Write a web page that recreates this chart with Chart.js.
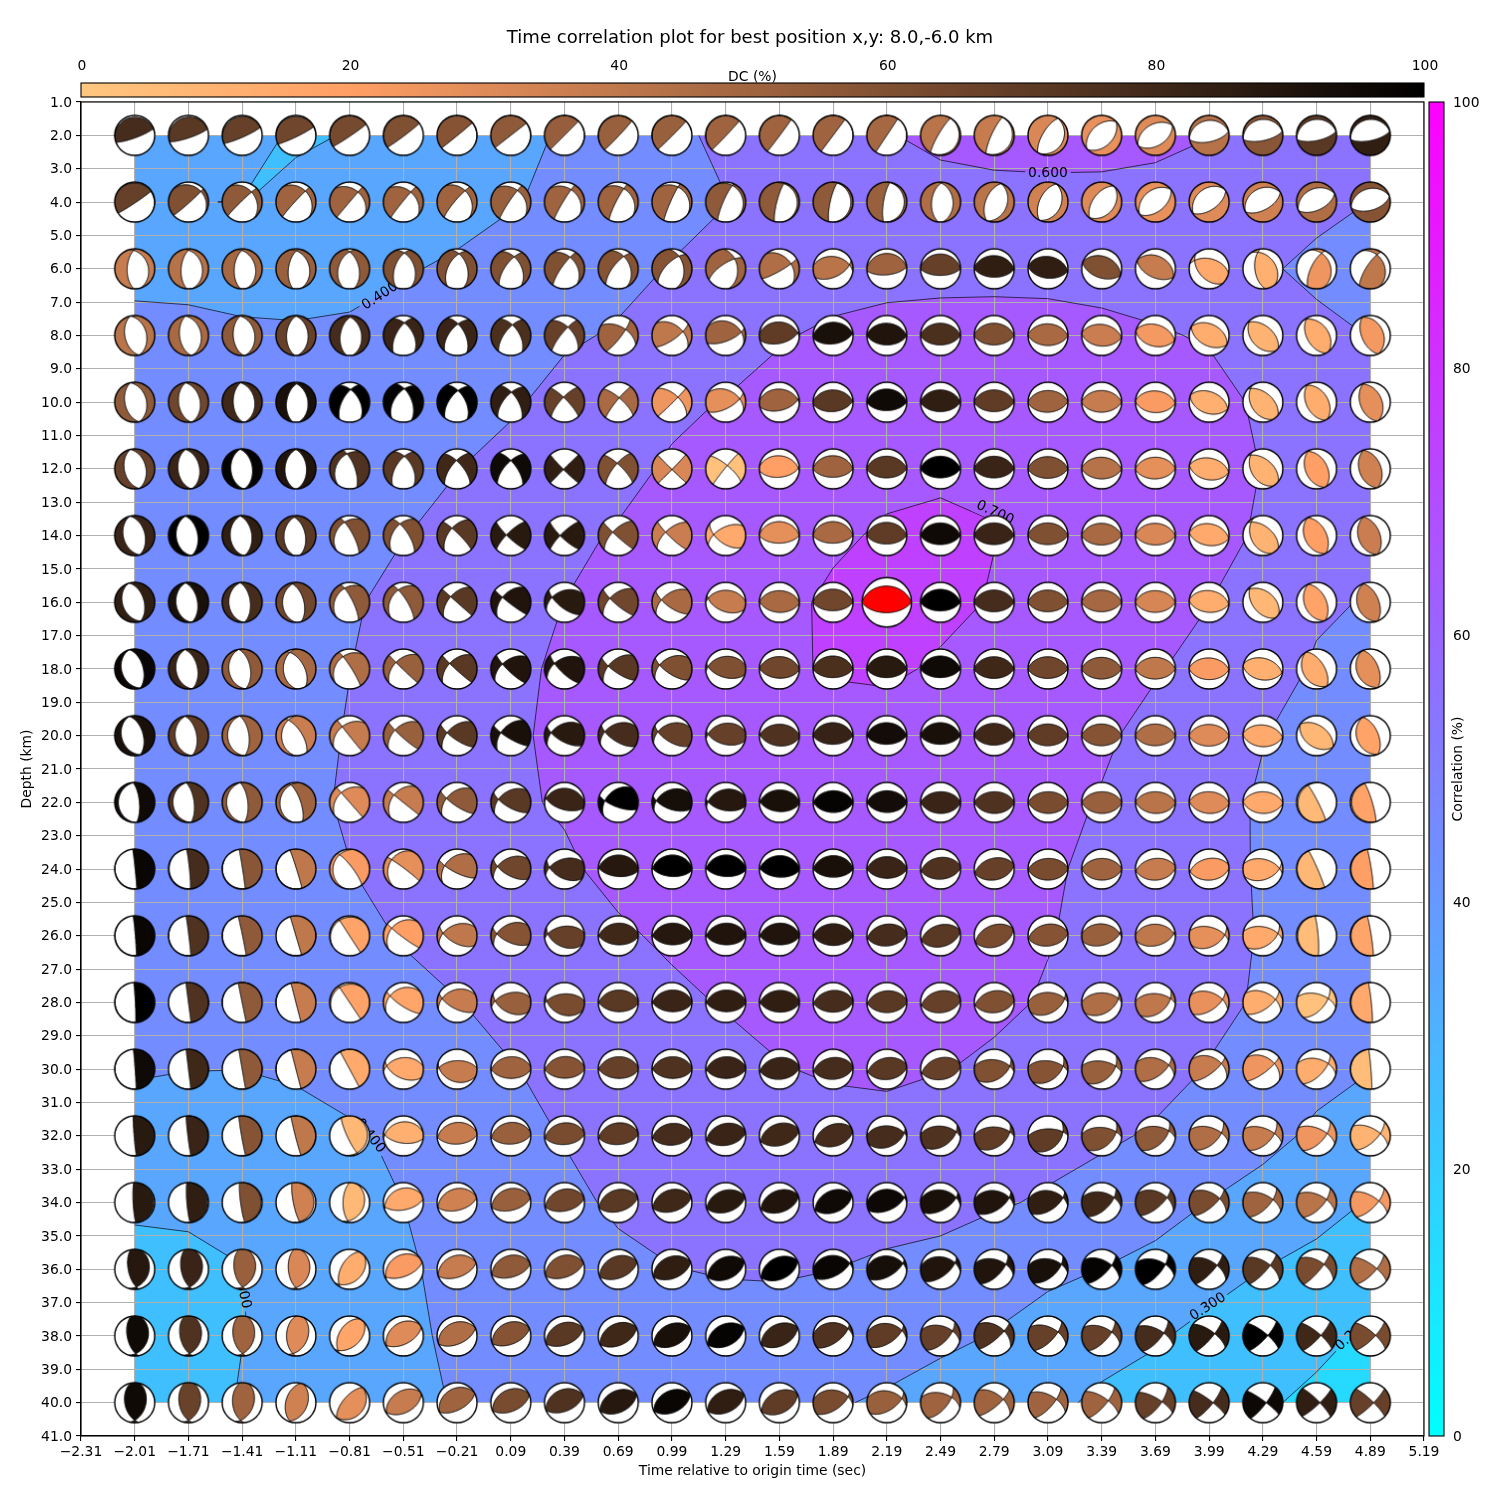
<!DOCTYPE html>
<html>
<head>
<meta charset="utf-8">
<title>Time correlation plot</title>
<script src="https://cdn.jsdelivr.net/npm/chart.js@4"></script>
<style>
  html, body { margin: 0; padding: 0; background: #fff; }
  #wrap { position: relative; width: 1500px; height: 1500px; }
  canvas { position: absolute; }
</style>
</head>
<body>
<div id="wrap">
  <canvas id="mainChart" width="1500" height="1500" style="left:0;top:0"></canvas>
  <canvas id="dcBar" width="1500" height="100" style="left:0;top:0"></canvas>
  <canvas id="corrBar" width="100" height="1500" style="left:1400px;top:0"></canvas>
</div>
<script>
// Axis ticks
const timeTicks = [-2.31,-2.01,-1.71,-1.41,-1.11,-0.81,-0.51,-0.21,0.09,0.39,0.69,0.99,1.29,1.59,1.89,2.19,2.49,2.79,3.09,3.39,3.69,3.99,4.29,4.59,4.89,5.19];
const depthTicks = [1,2,3,4,5,6,7,8,9,10,11,12,13,14,15,16,17,18,19,20,21,22,23,24,25,26,27,28,29,30,31,32,33,34,35,36,37,38,39,40,41];
const colorbarTicks = [0,20,40,60,80,100];

// Grid nodes
const gridTimes = [-2.01,-1.71,-1.41,-1.11,-0.81,-0.51,-0.21,0.09,0.39,0.69,0.99,1.29,1.59,1.89,2.19,2.49,2.79,3.09,3.39,3.69,3.99,4.29,4.59,4.89];
const gridDepths = [2,4,6,8,10,12,14,16,18,20,22,24,26,28,30,32,34,36,38,40];
const bestTime = 2.19, bestDepth = 16;

// Contours
const fillLevels = [0.1,0.2,0.3,0.4,0.5,0.6,0.7];
const lineLevels = [0.2,0.3,0.4,0.5,0.6,0.7];
// [time, depth, text, angle in degrees]
const contourLabels = [
  [-0.64,6.82,'0.400',-33],
  [3.09,3.13,'0.600',0],
  [2.794,13.32,'0.700',25],
  [3.984,37.13,'0.300',-33],
  [4.79,37.97,'0.200',-42],
  [-0.696,32.0,'0.400',52],
  [-1.41,36.59,'0.300',78]
];

// Correlation at each node, one row per depth
const corr = [
  [.32,.315,.3087,.297,.301,.32,.34,.375,.409,.44,.485,.515,.55,.575,.595,.62,.635,.64,.635,.625,.602,.585,.57,.555],
  [.32,.3006,.2995,.306,.32,.335,.365,.394,.42,.45,.475,.498,.525,.54,.555,.566,.568,.569,.571,.564,.56,.54,.52,.499],
  [.375,.37,.365,.365,.375,.392,.414,.435,.455,.48,.504,.525,.54,.55,.5636,.565,.564,.561,.55,.551,.54,.51,.483,.47],
  [.427,.4255,.4136,.41,.4135,.436,.45,.47,.49,.507,.53,.56,.59,.62,.635,.645,.65,.648,.635,.61,.5908,.555,.52,.498],
  [.43,.435,.44,.445,.45,.46,.475,.49,.5245,.55,.585,.6035,.64,.66,.67,.675,.68,.675,.665,.65,.635,.583,.545,.52],
  [.435,.44,.445,.45,.46,.475,.4985,.525,.55,.58,.609,.64,.66,.67,.68,.685,.69,.68,.67,.655,.63,.598,.56,.53],
  [.44,.445,.45,.46,.475,.498,.52,.55,.585,.606,.63,.65,.665,.688,.7096,.7195,.7027,.689,.675,.66,.635,.586,.56,.53],
  [.44,.445,.455,.465,.49,.5245,.55,.58,.6005,.625,.645,.66,.6809,.7127,.75,.73,.6915,.68,.67,.65,.601,.56,.51,.4955],
  [.44,.445,.455,.47,.499,.53,.555,.59,.6075,.63,.65,.665,.69,.706,.72,.685,.67,.665,.65,.605,.578,.53,.4925,.47],
  [.44,.445,.455,.47,.5057,.535,.56,.59,.614,.635,.645,.65,.655,.67,.646,.65,.65,.635,.61,.58,.55,.503,.47,.45],
  [.44,.445,.46,.48,.509,.54,.565,.59,.607,.64,.66,.675,.675,.67,.665,.66,.65,.62,.5956,.57,.53,.4905,.47,.45],
  [.435,.445,.46,.475,.4985,.53,.55,.57,.59,.6186,.65,.665,.67,.665,.66,.65,.63,.61,.583,.56,.525,.4925,.46,.44],
  [.43,.44,.45,.465,.48,.5047,.525,.55,.575,.59,.6117,.635,.65,.65,.645,.635,.62,.603,.583,.56,.52,.496,.455,.43],
  [.415,.425,.435,.45,.47,.48,.498,.518,.54,.565,.585,.605,.63,.635,.635,.63,.612,.5945,.575,.55,.52,.4908,.45,.42],
  [.403,.4005,.4003,.41,.435,.455,.475,.497,.516,.535,.555,.575,.595,.612,.62,.603,.589,.57,.55,.53,.496,.465,.43,.402],
  [.385,.384,.38,.37,.387,.418,.45,.48,.503,.525,.54,.55,.555,.56,.56,.555,.545,.53,.515,.4896,.47,.43,.3824,.36],
  [.32,.325,.335,.355,.385,.4,.43,.455,.485,.5096,.53,.54,.545,.55,.545,.535,.51,.4896,.46,.44,.398,.36,.33,.2947],
  [.2605,.268,.2974,.345,.375,.392,.416,.44,.46,.485,.498,.506,.51,.5005,.48,.465,.44,.42,.399,.37,.335,.30,.275,.255],
  [.23,.245,.297,.34,.365,.385,.4128,.43,.445,.455,.465,.465,.457,.46,.45,.42,.396,.36,.335,.31,.274,.25,.22,.188],
  [.2,.225,.313,.345,.365,.38,.4047,.42,.43,.44,.445,.44,.43,.41,.3856,.36,.34,.32,.284,.26,.235,.21,.183,.16]
];

// DC percentage at each node
const dc = [
  [78,72,68,65,63,60,58,55,53,52,52,50,50,50,48,42,38,32,27,30,43,57,72,85],
  [68,60,55,50,50,50,50,52,50,50,50,55,55,55,52,45,42,35,30,27,30,35,45,58],
  [38,43,48,52,55,60,60,60,60,58,58,50,45,42,50,68,85,85,60,38,15,12,25,40],
  [42,47,55,68,78,82,82,76,68,50,40,50,70,92,90,76,60,47,37,23,13,10,13,23],
  [55,65,80,92,100,98,100,85,68,47,25,28,50,72,95,85,70,50,38,22,12,10,13,28],
  [68,82,98,90,75,72,80,95,85,60,32,3,20,50,72,100,82,60,43,28,13,10,20,35],
  [82,100,85,72,60,60,72,87,87,60,37,15,28,47,70,95,82,60,47,32,15,10,20,37],
  [85,92,78,65,55,55,72,90,87,65,47,38,47,65,0,100,78,60,48,33,13,8,18,35],
  [97,82,55,48,45,52,72,90,90,72,60,60,65,76,87,95,80,65,55,40,22,12,13,28],
  [92,70,50,37,38,52,72,92,87,78,68,68,75,83,94,92,80,70,58,45,30,15,8,18],
  [95,75,55,50,30,38,55,72,82,100,93,88,92,98,94,82,75,62,52,42,30,15,7,18],
  [97,78,57,40,22,28,45,65,78,88,100,100,100,92,82,75,68,62,50,38,22,15,8,20],
  [97,75,55,40,18,20,40,58,68,80,88,90,90,85,78,72,62,58,52,40,28,15,5,17],
  [100,75,55,38,18,17,38,52,62,72,82,85,85,78,72,68,60,52,45,40,27,13,3,15],
  [95,80,55,38,15,15,38,50,58,68,75,82,82,78,72,68,60,58,52,45,38,25,13,5],
  [87,82,58,40,8,12,38,52,62,70,78,82,80,78,78,75,70,70,60,55,45,38,25,10],
  [87,85,60,35,7,15,35,52,65,72,80,87,90,95,96,92,90,85,80,72,62,50,42,23],
  [88,82,52,32,13,22,38,55,60,72,85,95,100,97,93,90,90,92,98,100,85,72,62,45],
  [95,75,50,30,17,30,45,58,72,80,92,98,82,75,70,68,75,68,68,78,87,100,80,62],
  [95,67,50,35,28,38,50,62,75,88,97,85,70,62,52,50,50,50,50,68,78,96,85,68]
];

// Focal mechanism per node: [crossing x, y, a point on a nodal line x, y, flag], in hundredths of
// the ball radius. The filled side lies right of the walk crossing -> point, left if flag is set.
const mech = [
  [[92,33,0,-13],[95,32,0,-13],[91,40,0,-10],[88,42,0,-8],[83,56,0,-5],[80,60,0,-5],[76,62,0,-2],[77,60,0,0],[70,70,0,0],[68,72,0,-5],[70,70,0,-3],[68,72,0,-3],[60,80,0,-3],[60,80,0,0],[55,83,0,0],[50,86,-13,0],[42,91,-15,0],[50,85,-30,0],[72,68,-35,40],[85,50,-30,48],[97,20,0,75],[97,20,0,80],[97,20,0,80],[97,20,0,80]],
  [[80,53,0,-5],[62,53,0,-6],[47,50,-70,-67],[47,55,-63,-67],[42,50,-58,-68],[37,50,-58,-70],[40,57,-62,-70],[33,58,-10,0],[33,62,-8,0],[28,67,-12,0],[30,75,-8,0],[33,83,-13,0],[22,92,-13,0],[20,95,-15,0],[15,97,-17,0],[3,95,-45,0],[35,92,-45,0],[42,90,-45,0],[62,80,-50,0],[78,62,0,68],[83,60,0,75],[87,48,0,72],[90,42,0,70],[96,28,0,68]],
  [[-5,92,-38,0],[0,93,-37,0],[-2,92,-40,0],[2,90,-38,0],[0,85,-40,-85],[5,79,-40,-85],[10,75,-50,-83],[17,60,-58,-82],[28,58,-58,-83],[28,62,-62,-83],[35,63,-70,-67],[45,50,-85,-62],[58,25,-87,-50],[82,20,-95,-40],[98,8,0,-30],[99,0,0,-33],[99,-2,0,-42],[98,-12,0,-47],[94,-32,0,-47],[90,-42,0,-47],[-72,42,20,47],[-25,83,70,0],[25,78,72,0],[33,70,75,-25]],
  [[-22,97,-50,0],[-15,97,-45,0],[-10,97,-45,0],[0,97,-47,0],[3,92,-47,0],[5,63,-50,-85],[5,58,-60,-85],[8,53,-60,-85],[17,42,-63,-75],[37,30,-67,-83],[55,20,-87,-58],[78,17,-30,-38],[92,13,0,-40],[97,10,0,-42],[99,-2,0,-47],[99,0,0,-47],[99,0,0,-47],[99,-2,0,-50],[98,-10,0,-53],[95,-25,0,-55],[90,-45,0,-55],[75,-72,-50,-33],[55,-88,-53,0],[40,-92,-45,0]],
  [[-22,97,-50,0],[-15,97,-50,0],[-8,97,-45,0],[3,92,-47,0],[5,63,-50,-85],[5,67,-58,-80],[5,58,-60,-80],[3,50,-65,-75],[-5,25,-67,-75],[5,22,-63,-77],[30,25,-70,-70],[70,17,-87,-48],[92,13,0,-42],[97,5,0,-47],[99,0,0,-42],[99,0,0,-47],[99,0,0,-47],[99,3,0,-50],[99,0,0,-50],[99,-5,0,-52],[93,-33,0,-58],[72,-80,-50,-33],[50,-90,-55,0],[38,-95,-53,0]],
  [[-22,97,-53,0],[-15,97,-53,0],[-10,98,-57,0],[0,97,-55,0],[-13,75,-58,-80],[5,63,-53,-85],[-3,42,-62,-78],[0,42,-67,-75],[-5,-3,-70,-70],[-5,28,-63,-77],[0,-3,-70,-72],[8,17,-63,-77],[95,3,0,-42],[99,0,0,-42],[99,0,0,-45],[99,0,0,-45],[99,0,0,-45],[99,0,0,-47],[99,-2,0,-50],[99,2,0,-50],[98,-18,0,-55],[72,-80,-50,-30],[45,-92,-58,0],[35,-95,-57,0]],
  [[-25,97,-58,0],[-15,97,-62,0],[-10,98,-60,0],[-8,92,-60,0],[-25,67,-65,-75],[-17,58,-60,-78],[-25,37,-62,-78],[-22,3,-72,-70],[-22,0,-72,-70],[-28,17,-70,-72],[-32,17,-75,-65],[-60,5,0,45],[99,0,0,-38],[99,0,0,-38],[99,0,0,-42],[99,0,0,-45],[99,0,0,-45],[99,0,0,-45],[99,0,0,-47],[99,-2,0,-47],[98,-15,0,-50],[72,-83,-58,-17],[45,-90,-63,0],[35,-95,-62,0]],
  [[-30,97,-63,0],[-15,97,-63,0],[-10,98,-67,0],[-17,92,-67,0],[-25,70,-67,-72],[-25,62,-62,-78],[-32,28,-67,-72],[-42,25,-68,-72],[-62,25,0,60],[-42,20,0,53],[-53,12,0,53],[-88,20,0,60],[-99,3,0,58],[99,0,0,-42],[99,0,0,-42],[99,0,0,-43],[99,0,0,-47],[99,0,0,-47],[99,0,0,-47],[99,0,0,-50],[98,-10,0,-50],[75,-75,-33,-40],[42,-92,-63,0],[35,-95,-67,0]],
  [[-28,97,-67,0],[-18,97,-63,0],[-17,98,-67,0],[-30,83,-63,0],[-33,62,-72,-68],[-37,33,-72,-68],[-37,28,-72,-68],[-42,25,-80,-58],[-50,28,0,57],[-50,15,0,57],[-62,20,0,62],[-88,12,0,63],[-99,3,0,62],[99,0,0,-43],[99,0,0,-43],[99,0,0,-43],[99,0,0,-47],[99,0,0,-47],[99,0,0,-50],[99,0,0,-50],[99,-3,0,-53],[95,-20,0,-55],[52,-85,-73,0],[38,-92,-70,0]],
  [[-28,97,-67,0],[-17,97,-67,0],[-12,98,-73,0],[-38,78,-72,0],[-37,45,-80,-58],[-42,28,-75,-65],[-50,15,-75,-62],[-50,15,0,62],[-67,15,0,62],[-67,20,0,62],[-70,20,0,62],[-88,8,0,62],[-97,5,0,57],[99,0,0,-43],[99,0,0,-43],[99,0,0,-43],[99,0,0,-47],[99,0,0,-50],[99,0,0,-50],[99,0,0,-50],[99,0,0,-52],[98,-8,0,-55],[82,-57,0,-63],[38,-93,-70,0]],
  [[-8,98,-82,0],[-12,98,-78,0],[-10,98,-78,0],[-25,88,-80,0],[-42,48,0,72],[-47,37,0,73],[-53,20,0,62],[-62,15,0,62],[-92,20,0,70],[-67,8,0,70],[-78,8,0,65],[-88,3,0,65],[-97,3,0,62],[-99,0,0,58],[-99,0,0,58],[-99,0,0,53],[-99,0,0,53],[-99,0,0,53],[-99,0,0,53],[-99,3,0,53],[-99,5,0,53],[-99,3,0,53],[-42,85,8,0],[-28,95,10,0]],
  [[10,-98,2,0],[10,-98,5,0],[15,-97,2,0],[30,-95,3,0],[-50,72,58,-70,1],[-58,47,80,-60,1],[-62,17,88,-45,1],[-67,13,85,-50,1],[-75,8,88,-47,1],[-97,5,0,70],[-97,3,0,70],[-97,3,0,70],[-97,3,0,67],[-99,0,0,67],[-99,0,0,62],[-97,-10,0,58],[-96,-22,0,55],[-99,-3,0,53],[-99,0,0,53],[-97,-10,0,53],[-95,-13,0,53],[83,3,0,-55],[-40,92,5,0],[-15,98,5,0]],
  [[8,-99,3,0],[12,-99,2,0],[20,-98,2,0],[28,-94,0,0],[-50,77,0,0,1],[-58,38,80,-60,1],[-70,13,85,-50,1],[-70,10,83,-45,1],[-83,10,88,-45,1],[-97,0,0,63],[-97,0,0,63],[-97,0,0,63],[-97,0,0,63],[-99,0,0,60],[-97,-12,0,58],[-95,-25,0,55],[-93,-33,0,55],[-97,-15,0,58],[90,12,0,-48],[92,12,0,-50],[78,5,-85,-50],[75,12,-80,-58],[-8,99,8,0],[-15,98,5,0]],
  [[5,-99,3,0],[13,-99,0,0],[20,-98,0,0],[25,-97,0,0],[-50,75,0,0,1],[-67,33,80,-55,1],[-75,20,85,-47,1],[-78,8,88,-47,1],[-88,8,90,-40,1],[-97,0,0,62],[-97,0,0,62],[-97,0,0,62],[-97,0,0,60],[-97,-5,0,60],[-97,-5,0,58],[-95,-15,0,58],[-95,-15,0,58],[83,20,0,-58],[83,20,0,-60],[75,20,0,-62],[67,15,-80,-58],[63,15,-82,-58],[58,20,-58,-75],[-10,99,5,0]],
  [[7,-99,2,0],[12,-99,0,0],[17,-98,0,0],[25,-97,0,0],[-47,87,0,0,1],[-83,17,85,-45,1],[-90,8,90,-38,1],[-97,-3,0,62],[-97,-3,0,63],[-97,0,0,62],[-97,0,0,62],[-97,-3,0,62],[-97,-10,0,58],[-97,-10,0,58],[-95,-15,0,57],[-93,-20,0,57],[78,15,0,-58],[75,15,0,-63],[70,15,0,-63],[67,20,-78,-60],[62,28,-78,-60],[58,28,-80,-60],[58,28,-58,-72],[-8,99,3,0]],
  [[8,-99,-3,0],[12,-99,-3,0],[17,-98,-3,0],[25,-97,-3,0],[37,-85,-13,0],[-93,5,0,70],[-97,-8,0,67],[-97,-8,0,67],[-97,-10,0,65],[-97,-10,0,65],[-97,-10,0,62],[-95,-20,0,62],[-93,-28,0,62],[-90,-30,0,58],[87,15,0,-58],[78,20,0,-58],[78,20,0,-63],[75,20,-65,-75],[72,20,-70,-70],[67,25,-68,-72],[62,15,-70,-70],[58,12,-67,-72],[53,12,-65,-73],[50,12,-68,-70]],
  [[5,-99,-8,0],[8,-99,-8,0],[13,-98,-8,0],[18,-95,-13,0],[-8,-92,-33,0],[-93,-22,0,72],[-95,-25,0,70],[-95,-25,0,70],[-95,-23,0,67],[-95,-27,0,65],[-95,-28,0,65],[-94,-30,0,62],[-92,-33,0,62],[-90,-38,0,62],[87,25,0,-42],[78,25,0,-42],[75,25,0,-45],[75,25,0,-45],[62,25,0,-47],[58,25,-75,-65],[53,20,-73,-65],[50,15,-63,-72],[50,15,-58,-72],[43,8,-68,-72]],
  [[8,-88,-33,0],[5,-88,-37,0],[2,-88,-40,0],[0,-92,-38,0],[-53,-75,-40,15],[-88,-38,0,75],[-94,-33,0,70],[-94,-28,0,70],[-94,-33,0,70],[-92,-37,0,67],[-92,-37,0,65],[-90,-40,0,62],[-90,-42,0,62],[83,30,0,-38],[80,30,0,-40],[72,32,0,-42],[58,25,0,-45],[67,25,-67,-68],[50,20,-58,-68],[50,25,-55,-75],[40,20,-63,-72],[37,20,-63,-72],[37,25,-58,-72],[33,3,-67,-73]],
  [[5,-88,-38,0],[5,-88,-42,0],[2,-88,-45,0],[-15,-88,-47,0],[-58,-72,-58,0],[-85,-47,0,72],[-92,-40,0,70],[-92,-38,0,70],[-92,-38,0,67],[-90,-42,0,65],[-90,-42,0,62],[-90,-43,0,62],[-90,-43,0,62],[75,37,0,-40],[75,28,0,-42],[60,25,0,-45],[50,25,-75,-65],[50,20,-67,-72],[50,20,-58,-72],[42,15,-58,-75],[28,12,-63,-75],[25,3,-67,-73],[22,3,-68,-73],[27,3,-70,-70]],
  [[0,-88,-50,0],[0,-88,-47,0],[-8,-88,-48,0],[-30,-92,-52,0],[-65,-75,-40,0],[-85,-48,0,63],[-87,-47,0,75],[-90,-40,0,68],[-92,-38,0,68],[-90,-42,0,63],[-90,-42,0,63],[-90,-42,0,63],[-88,-45,0,60],[75,30,0,-42],[75,22,0,-45],[55,27,0,-47],[45,17,-75,-65],[42,17,-58,-73],[33,10,-58,-73],[33,5,-58,-78],[20,0,-63,-77],[17,0,-60,-78],[17,0,-72,-68],[17,0,-70,-70]]
];

Chart.defaults.font.family = '"DejaVu Sans", sans-serif';
Chart.defaults.font.size = 13.89;
Chart.defaults.color = '#000';

// Matplotlib "cool" and reversed "copper"
function coolColor(t) {
  return 'rgb(' + Math.round(255 * t) + ',' + Math.round(255 * (1 - t)) + ',255)';
}
function copperRgb(v) {
  const t = 1 - v / 100;
  return [Math.min(1.25 * t, 1) * 255, 0.7812 * t * 255, 0.4975 * t * 255];
}
function copperColor(v) {
  const c = copperRgb(v);
  return 'rgb(' + c[0] + ',' + c[1] + ',' + c[2] + ')';
}

// Equal-area lower hemisphere helpers
function discToVec(x, y) {
  const r = Math.hypot(x, y);
  if (r < 1e-6) return [0, 0, 1];
  const th = 2 * Math.asin(Math.min(r, 1.41) / Math.SQRT2);
  const s = Math.sin(th) / r;
  return [s * x, s * y, Math.cos(th)];
}
function vecToDisc(v) {
  const h = Math.hypot(v[0], v[1]);
  if (h < 1e-6) return [0, 0];
  const r = Math.SQRT2 * Math.sin(Math.acos(Math.max(-1, Math.min(1, v[2]))) / 2);
  return [v[0] / h * r, v[1] / h * r];
}
function cross(a, b) { return [a[1]*b[2]-a[2]*b[1], a[2]*b[0]-a[0]*b[2], a[0]*b[1]-a[1]*b[0]]; }
function dot(a, b) { return a[0]*b[0]+a[1]*b[1]+a[2]*b[2]; }
function unit(a) { const n = Math.hypot(a[0], a[1], a[2]) || 1; return [a[0]/n, a[1]/n, a[2]/n]; }

const SS = 3;
const discTables = {};
function discTable(radius, size) {
  const key = radius + '_' + size;
  if (discTables[key]) return discTables[key];
  const n = size * SS, c = n / 2, R = radius * SS, t = [];
  for (let j = 0; j < n; j++) {
    for (let i = 0; i < n; i++) {
      const x = (i + 0.5 - c) / R, y = (c - j - 0.5) / R;
      if (x*x + y*y <= 1) {
        const v = discToVec(x, y);
        t.push((j * n + i) * 4, v[0], v[1], v[2]);
      }
    }
  }
  discTables[key] = Float64Array.from(t);
  return discTables[key];
}

const hiRes = document.createElement('canvas');

function makeBall(m, rgb, radius) {
  const size = Math.ceil(radius * 2) + 6;
  const N = discToVec(m[0] / 100, m[1] / 100), A = discToVec(m[2] / 100, m[3] / 100);
  const nA = unit(cross(N, A)), nB = unit(cross(N, nA));
  // which side gets the colour
  const tan = unit(cross(nA, A));
  const back = vecToDisc(unit([A[0]-0.05*tan[0], A[1]-0.05*tan[1], A[2]-0.05*tan[2]]));
  const ax = m[2] / 100, ay = m[3] / 100;
  let hx = ax - back[0], hy = ay - back[1];
  const hl = Math.hypot(hx, hy) || 1; hx /= hl; hy /= hl;
  const q = discToVec(ax + 0.04 * hy, ay - 0.04 * hx);
  let sign = dot(q, nA) * dot(q, nB) > 0 ? 1 : -1;
  if (m[4]) sign = -sign;

  const n = size * SS;
  hiRes.width = n; hiRes.height = n;
  const hctx = hiRes.getContext('2d');
  const img = hctx.createImageData(n, n);
  const tb = discTable(radius, size), d = img.data;
  for (let k = 0; k < tb.length; k += 4) {
    const p = tb[k], x = tb[k+1], y = tb[k+2], z = tb[k+3];
    const f = sign * (x*nA[0]+y*nA[1]+z*nA[2]) * (x*nB[0]+y*nB[1]+z*nB[2]);
    if (f > 0) { d[p] = rgb[0]; d[p+1] = rgb[1]; d[p+2] = rgb[2]; }
    else { d[p] = 255; d[p+1] = 255; d[p+2] = 255; }
    d[p+3] = 255;
  }
  hctx.putImageData(img, 0, 0);

  const cv = document.createElement('canvas');
  cv.width = size; cv.height = size;
  const c = cv.getContext('2d');
  c.imageSmoothingQuality = 'high';
  c.drawImage(hiRes, 0, 0, size, size);
  const mid = size / 2;
  c.strokeStyle = '#000';
  c.lineWidth = 1;
  [nA, nB].forEach(pole => {
    const u = unit(cross(pole, Math.abs(pole[2]) < 0.9 ? [0,0,1] : [1,0,0]));
    const w = cross(pole, u);
    c.beginPath();
    let on = false;
    for (let k = 0; k <= 360; k += 2) {
      const a = k * Math.PI / 180;
      const p = [u[0]*Math.cos(a)+w[0]*Math.sin(a), u[1]*Math.cos(a)+w[1]*Math.sin(a), u[2]*Math.cos(a)+w[2]*Math.sin(a)];
      if (p[2] < 0) { on = false; continue; }
      const e = vecToDisc(p);
      const px = mid + e[0] * radius, py = mid - e[1] * radius;
      if (on) c.lineTo(px, py); else c.moveTo(px, py);
      on = true;
    }
    c.stroke();
  });
  c.lineWidth = 1.4;
  c.beginPath();
  c.arc(mid, mid, radius, 0, Math.PI * 2);
  c.stroke();
  return cv;
}

// Contour geometry from the node values
function crossing(a, b, level) {
  const t = (level - a[2]) / (b[2] - a[2]);
  return [a[0] + t * (b[0] - a[0]), a[1] + t * (b[1] - a[1]), level];
}
function clipCell(poly, level) {
  const high = poly.map(p => p[2] >= level);
  // saddle: the two high corners stay apart
  if (high[0] === high[2] && high[1] === high[3] && high[0] !== high[1]) {
    const out = [];
    for (let k = 0; k < 4; k++) {
      if (!high[k]) continue;
      out.push([poly[k], crossing(poly[k], poly[(k + 1) % 4], level), crossing(poly[k], poly[(k + 3) % 4], level)]);
    }
    return out;
  }
  const out = [];
  for (let i = 0; i < poly.length; i++) {
    const a = poly[i], b = poly[(i + 1) % poly.length];
    const ia = a[2] >= level, ib = b[2] >= level;
    if (ia) out.push(a);
    if (ia !== ib) out.push(crossing(a, b, level));
  }
  return out.length ? [out] : [];
}
function cellCorners(i, j, xs, ys) {
  return [
    [xs[i], ys[j], corr[j][i]],
    [xs[i+1], ys[j], corr[j][i+1]],
    [xs[i+1], ys[j+1], corr[j+1][i+1]],
    [xs[i], ys[j+1], corr[j+1][i]]
  ];
}

const contourFill = {
  id: 'contourFill',
  beforeDraw(chart) {
    const { ctx, scales: { x, y } } = chart;
    const xs = gridTimes.map(v => x.getPixelForValue(v));
    const ys = gridDepths.map(v => y.getPixelForValue(v));
    ctx.save();
    fillLevels.forEach(level => {
      ctx.beginPath();
      for (let j = 0; j < ys.length - 1; j++) {
        for (let i = 0; i < xs.length - 1; i++) {
          clipCell(cellCorners(i, j, xs, ys), level).forEach(poly => {
            if (poly.length < 3) return;
            ctx.moveTo(poly[0][0], poly[0][1]);
            for (let k = 1; k < poly.length; k++) ctx.lineTo(poly[k][0], poly[k][1]);
            ctx.closePath();
          });
        }
      }
      ctx.fillStyle = coolColor(level + 0.05);
      ctx.fill('nonzero');
    });
    ctx.restore();
  },
  beforeDatasetsDraw(chart) {
    const { ctx, scales: { x, y }, chartArea: area } = chart;
    const xs = gridTimes.map(v => x.getPixelForValue(v));
    const ys = gridDepths.map(v => y.getPixelForValue(v));
    ctx.save();
    ctx.font = '13.89px "DejaVu Sans"';
    // contour lines stop at their labels
    const labels = contourLabels.map(l => ({
      px: x.getPixelForValue(l[0]), py: y.getPixelForValue(l[1]), text: l[2], rad: l[3] * Math.PI / 180,
      hw: ctx.measureText(l[2]).width / 2 + 3
    }));
    ctx.save();
    ctx.beginPath();
    ctx.rect(area.left - 5, area.top - 5, area.width + 10, area.height + 10);
    labels.forEach(l => {
      const cs = Math.cos(l.rad), sn = Math.sin(l.rad), h = 8;
      [[-l.hw,-h],[-l.hw,h],[l.hw,h],[l.hw,-h]].forEach((p, k) => {
        const qx = l.px + p[0]*cs - p[1]*sn, qy = l.py + p[0]*sn + p[1]*cs;
        if (k === 0) ctx.moveTo(qx, qy); else ctx.lineTo(qx, qy);
      });
      ctx.closePath();
    });
    ctx.clip('evenodd');
    ctx.strokeStyle = 'rgba(0,0,0,0.85)';
    ctx.lineWidth = 0.8;
    ctx.beginPath();
    lineLevels.forEach(level => {
      for (let j = 0; j < ys.length - 1; j++) {
        for (let i = 0; i < xs.length - 1; i++) {
          const poly = cellCorners(i, j, xs, ys), pts = [];
          for (let k = 0; k < 4; k++) {
            const a = poly[k], b = poly[(k + 1) % 4];
            if ((a[2] >= level) !== (b[2] >= level)) pts.push(crossing(a, b, level));
          }
          if (pts.length === 2) {
            ctx.moveTo(pts[0][0], pts[0][1]); ctx.lineTo(pts[1][0], pts[1][1]);
          } else if (pts.length === 4) {
            // saddle: keep the low corners joined
            const s = poly[0][2] >= level ? 1 : 0;
            ctx.moveTo(pts[s][0], pts[s][1]); ctx.lineTo(pts[(s+1)%4][0], pts[(s+1)%4][1]);
            ctx.moveTo(pts[(s+2)%4][0], pts[(s+2)%4][1]); ctx.lineTo(pts[(s+3)%4][0], pts[(s+3)%4][1]);
          }
        }
      }
    });
    ctx.stroke();
    ctx.restore();
    ctx.fillStyle = '#000';
    ctx.textAlign = 'center';
    ctx.textBaseline = 'middle';
    labels.forEach(l => {
      ctx.save();
      ctx.translate(l.px, l.py);
      ctx.rotate(l.rad);
      ctx.fillText(l.text, 0, 0);
      ctx.restore();
    });
    ctx.restore();
  },
  afterDraw(chart) {
    const { ctx, chartArea: a } = chart;
    ctx.save();
    ctx.strokeStyle = '#000';
    ctx.lineWidth = 1.1;
    ctx.strokeRect(a.left, a.top, a.width, a.height);
    ctx.restore();
  }
};

// Build the balls
const ballPoints = [], ballStyles = [];
let bestPoint = null;
gridDepths.forEach((depth, j) => {
  gridTimes.forEach((time, i) => {
    const best = time === bestTime && depth === bestDepth;
    const style = makeBall(mech[j][i], best ? [255, 0, 0] : copperRgb(dc[j][i]), best ? 24.7 : 20);
    if (best) { bestPoint = { x: time, y: depth, style }; return; }
    ballPoints.push({ x: time, y: depth });
    ballStyles.push(style);
  });
});
ballPoints.push({ x: bestPoint.x, y: bestPoint.y });
ballStyles.push(bestPoint.style);

function formatTime(v) { return v.toFixed(2).replace('-', '\u2212'); }

new Chart(document.getElementById('mainChart').getContext('2d'), {
  type: 'scatter',
  data: {
    datasets: [{
      label: 'Mechanisms',
      data: ballPoints,
      pointStyle: ballStyles,
      pointRadius: 20,
      showLine: false,
      clip: false
    }]
  },
  options: {
    responsive: false,
    animation: false,
    events: [],
    plugins: {
      legend: { display: false },
      tooltip: { enabled: false },
      title: {
        display: true,
        text: 'Time correlation plot for best position x,y: 8.0,-6.0 km',
        font: { size: 18.06, weight: 'normal' },
        color: '#000',
        padding: { top: 27, bottom: 53.33 }
      }
    },
    scales: {
      x: {
        type: 'linear',
        min: -2.31,
        max: 5.19,
        afterBuildTicks: s => { s.ticks = timeTicks.map(v => ({ value: v })); },
        afterFit: s => { s.height = 64; },
        ticks: { autoSkip: false, maxRotation: 0, padding: 3, callback: v => formatTime(v) },
        grid: { color: '#b0b0b0', lineWidth: 1.1, tickColor: '#000', tickLength: 5 },
        border: { color: '#000', width: 1.1 },
        title: { display: true, text: 'Time relative to origin time (sec)', padding: { top: 0, bottom: 20.7 } }
      },
      y: {
        type: 'linear',
        reverse: true,
        min: 1,
        max: 41,
        afterBuildTicks: s => { s.ticks = depthTicks.map(v => ({ value: v })); },
        afterFit: s => { s.width = 81; },
        ticks: { autoSkip: false, padding: 4, labelOffset: 1, callback: v => v.toFixed(1) },
        grid: { color: '#b0b0b0', lineWidth: 1.1, tickColor: '#000', tickLength: 5 },
        border: { color: '#000', width: 1.1 },
        title: { display: true, text: 'Depth (km)', padding: { top: 18.7, bottom: 0 } }
      },
      spacer: {
        type: 'linear',
        position: 'right',
        display: true,
        afterFit: s => { s.width = 76; },
        ticks: { display: false },
        grid: { display: false },
        border: { display: false }
      }
    }
  },
  plugins: [contourFill]
});

// Colour bars
function colorbarPlugin(horizontal, colorOf, label) {
  return {
    id: 'colorbar',
    beforeDraw(chart) {
      const { ctx, chartArea: a } = chart;
      const g = horizontal ? ctx.createLinearGradient(a.left, 0, a.right, 0) : ctx.createLinearGradient(0, a.bottom, 0, a.top);
      for (let v = 0; v <= 100; v += 5) g.addColorStop(v / 100, colorOf(v));
      ctx.fillStyle = g;
      ctx.fillRect(a.left, a.top, a.width, a.height);
    },
    afterDraw(chart) {
      const { ctx, chartArea: a } = chart;
      ctx.save();
      ctx.strokeStyle = '#000';
      ctx.lineWidth = 1.1;
      ctx.strokeRect(a.left, a.top, a.width, a.height);
      ctx.fillStyle = '#000';
      ctx.font = '13.89px "DejaVu Sans"';
      ctx.textAlign = 'center';
      ctx.textBaseline = 'middle';
      if (horizontal) {
        ctx.fillText(label, (a.left + a.right) / 2, 77);
      } else {
        ctx.translate(58, (a.top + a.bottom) / 2);
        ctx.rotate(-Math.PI / 2);
        ctx.fillText(label, 0, 0);
      }
      ctx.restore();
    }
  };
}

new Chart(document.getElementById('dcBar').getContext('2d'), {
  type: 'scatter',
  data: { datasets: [] },
  options: {
    responsive: false,
    animation: false,
    events: [],
    layout: { padding: { left: 81, right: 76, top: 0, bottom: 3 } },
    plugins: { legend: { display: false }, tooltip: { enabled: false } },
    scales: {
      x: {
        type: 'linear',
        position: 'top',
        min: 0,
        max: 100,
        afterBuildTicks: s => { s.ticks = colorbarTicks.map(v => ({ value: v })); },
        afterFit: s => { s.height = 83; },
        ticks: { padding: 3, maxRotation: 0, labelOffset: 1 },
        grid: { display: false, drawTicks: true, tickColor: '#000', tickLength: 5 },
        border: { display: false }
      },
      y: { display: false }
    }
  },
  plugins: [colorbarPlugin(true, copperColor, 'DC (%)')]
});

new Chart(document.getElementById('corrBar').getContext('2d'), {
  type: 'scatter',
  data: { datasets: [] },
  options: {
    responsive: false,
    animation: false,
    events: [],
    layout: { padding: { left: 29, right: 0, top: 102, bottom: 64 } },
    plugins: { legend: { display: false }, tooltip: { enabled: false } },
    scales: {
      x: { display: false },
      y: {
        type: 'linear',
        position: 'right',
        min: 0,
        max: 100,
        afterBuildTicks: s => { s.ticks = colorbarTicks.map(v => ({ value: v })); },
        afterFit: s => { s.width = 56; },
        ticks: { padding: 4, labelOffset: 1 },
        grid: { display: false, drawTicks: true, tickColor: '#000', tickLength: 5 },
        border: { display: false }
      }
    }
  },
  plugins: [colorbarPlugin(false, v => coolColor(v / 100), 'Correlation (%)')]
});
</script>
</body>
</html>
